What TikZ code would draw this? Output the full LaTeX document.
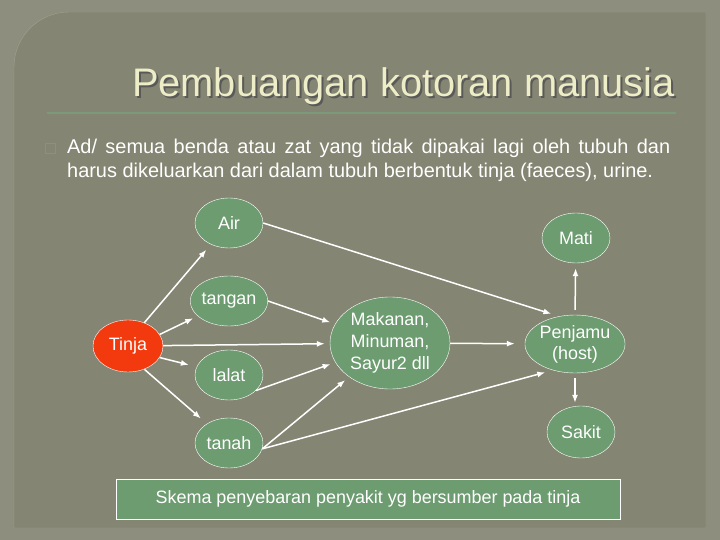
\documentclass[tikz,border=0pt]{standalone}
\usepackage{fontspec}
\setmainfont{Liberation Sans}
\usetikzlibrary{shapes.geometric,arrows.meta}
\definecolor{slate}{HTML}{8E8E7E}
\definecolor{panel}{HTML}{858573}
\definecolor{rim}{HTML}{A2A290}
\definecolor{cream}{HTML}{EDEDC8}
\definecolor{leaf}{HTML}{6C9C70}
\definecolor{ember}{HTML}{F23A0E}
\definecolor{rule}{HTML}{7A9A7A}
\begin{document}
\begin{tikzpicture}[x=1bp,y=-1bp,>={Latex[length=8bp,width=6bp]}]
  \tikzstyle{spot}=[ellipse,draw=white,thin,fill=leaf,text=white,inner sep=0pt,
    minimum width=68bp,minimum height=50bp,align=center,font=\fontsize{18}{22}\selectfont]
  \tikzstyle{link}=[->,white,line width=1.5bp,shorten >=5bp]
  \useasboundingbox (0,0) rectangle (720,540);
  % background and slide panel
  \fill[slate] (0,0) rectangle (720,540);
  \filldraw[fill=panel,draw=rim,thin] (14,528) -- (14,67) arc[start angle=180,end angle=270,radius=55]
    -- (706,12) -- (706,528) -- cycle;
  % title
  \node[anchor=base east,inner sep=0pt,text=black!65,font=\fontsize{40}{48}\selectfont] (shadow) at (677,99) {Pembuangan kotoran manusia};
  \node[anchor=base east,inner sep=0pt,text=cream,font=\fontsize{40}{48}\selectfont] (title) at (675,97) {Pembuangan kotoran manusia};
  \draw[rule,line width=1.5bp] (47,113) -- (676,113);
  % bullet text
  \draw[rule] (45,143) rectangle (55,153);
  \node[anchor=base west,inner sep=0pt,text=white,font=\fontsize{20}{24}\selectfont] (line1) at (67,154)
    {\makebox[603bp][s]{Ad/ semua benda atau zat yang tidak dipakai lagi oleh tubuh dan}};
  \node[anchor=base west,inner sep=0pt,text=white,font=\fontsize{20}{24}\selectfont] (line2) at (67,178)
    {harus dikeluarkan dari dalam tubuh berbentuk tinja (faeces), urine.};
  % nodes
  \node[spot,fill=ember,minimum width=70bp,minimum height=52bp] (tinja) at (128,346) {Tinja};
  \node[spot] (air) at (229,223) {Air};
  \node[spot] (tangan) at (229,301) {tangan};
  \node[spot] (lalat) at (229,375) {lalat};
  \node[spot] (tanah) at (229,443) {tanah};
  \node[spot,minimum width=120bp,minimum height=92bp] (makan) at (390,343) {Makanan,\\Minuman,\\Sayur2 dll};
  \node[spot,minimum width=80bp,minimum height=58bp,font=\fontsize{18}{21}\selectfont] (host) at (575,344) {Penjamu\\(host)};
  \node[spot] (mati) at (576,238) {Mati};
  \node[spot,minimum height=52bp] (sakit) at (581,432) {Sakit};
  % caption
  \node[draw=white,thin,fill=leaf,text=white,minimum width=504bp,minimum height=40bp,
    font=\fontsize{18}{21}\selectfont] (caption) at (368,499) {Skema penyebaran penyakit yg bersumber pada tinja};
  % connectors
  \draw[link,shorten >=7bp] (tinja.55) -- (air);
  \draw[link] (tinja.20) -- (tangan);
  \draw[link] (tinja) -- (makan);
  \draw[link,shorten >=8bp] (tinja.-20) -- (lalat);
  \draw[link,shorten >=8bp] (tinja.-55) -- (tanah);
  \draw[link] (tangan.east) -- (makan);
  \draw[link] (lalat.-30) -- (makan);
  \draw[link] (tanah.-10) -- (makan);
  \draw[link,shorten >=8bp] (air.east) -- (host.120);
  \draw[link,shorten >=10bp] (makan) -- (host);
  \draw[link,shorten >=8bp] (tanah.-10) -- (host.-130);
  \draw[link,shorten <=5bp] (host.north) -- (mati);
  \draw[link,shorten <=5bp,shorten >=3bp] (host.south) -- (host.south |- sakit.north);
\end{tikzpicture}
\end{document}
